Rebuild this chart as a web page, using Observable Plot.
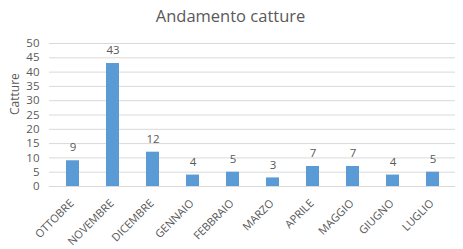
<!DOCTYPE html>
<html>
<head>
<meta charset="utf-8">
<script src="https://cdn.jsdelivr.net/npm/d3@7"></script>
<script src="https://cdn.jsdelivr.net/npm/@observablehq/plot@0.6"></script>
<style>
  html, body { margin: 0; padding: 0; background: #fff; }
  svg { display: block; }
</style>
</head>
<body>
<div id="chart"></div>
<script>
const title = "Andamento catture";
const yLabel = "Catture";
const months = ["OTTOBRE","NOVEMBRE","DICEMBRE","GENNAIO","FEBBRAIO","MARZO","APRILE","MAGGIO","GIUGNO","LUGLIO"];
const catture = [9, 43, 12, 4, 5, 3, 7, 7, 4, 5];
const yTicks = [0, 5, 10, 15, 20, 25, 30, 35, 40, 45, 50];

const data = months.map((m, i) => ({month: m, value: catture[i]}));
const textColor = "#595959";
const font = "Open Sans, sans-serif";

const chart = Plot.plot({
  width: 463,
  height: 249,
  marginTop: 43,
  marginBottom: 63,
  marginLeft: 49,
  marginRight: 8,
  style: {fontFamily: font, fontSize: "10.5px", color: textColor, background: "#fff"},
  x: {domain: months, paddingInner: 0.68, paddingOuter: 0.34, label: null},
  y: {domain: [0, 50], ticks: yTicks, label: null},
  marks: [
    Plot.gridY(yTicks, {stroke: "#d9d9d9", strokeOpacity: 1}),
    Plot.barY(data, {x: "month", y: "value", fill: "#5B9BD5"}),
    Plot.text(data, {x: "month", y: "value", text: d => String(d.value), dy: -13, fill: textColor, fontSize: 11.5}),
    Plot.axisY({ticks: yTicks, tickSize: 0, tickPadding: 10, fill: textColor, fontSize: 11.5, label: null}),
    Plot.axisX({tickSize: 0, tickRotate: -45, tickPadding: 15, dx: -1, fill: textColor, fontSize: 11, label: null}),
    Plot.text([yLabel], {frameAnchor: "left", dx: -34, rotate: -90, fill: textColor, fontSize: 12}),
    Plot.text([title], {frameAnchor: "top", lineAnchor: "middle", dx: -22, dy: -27, fill: textColor, fontSize: 16.5})
  ]
});
document.getElementById("chart").appendChild(chart);
</script>
</body>
</html>
